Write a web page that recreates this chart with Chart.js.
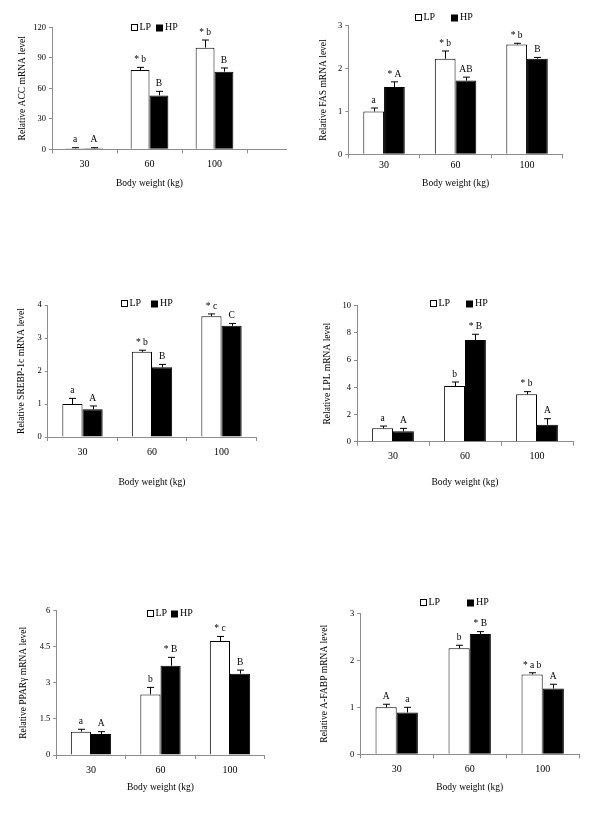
<!DOCTYPE html>
<html>
<head>
<meta charset="utf-8">
<script src="https://cdn.jsdelivr.net/npm/chart.js"></script>
<style>
body { margin: 0; background: #fff; width: 600px; height: 816px; position: relative; overflow: hidden; }
canvas { position: absolute; }
</style>
</head>
<body>
<script>
// body weight groups and the two diets
const weights = ['30', '60', '100'];
const dietNames = ['LP', 'HP'];

// ACC
const accLP = [1, 78, 100];
const accLPerr = [0.6, 2.6, 7.5];
const accHP = [1, 53, 76.4];
const accHPerr = [0.6, 4, 3.6];
const accLPmark = ['a', '* b', '* b'];
const accHPmark = ['A', 'B', 'B'];
const accTicks = [0, 30, 60, 90, 120];

// FAS
const fasLP = [1.0, 2.23, 2.56];
const fasLPerr = [0.08, 0.18, 0.03];
const fasHP = [1.57, 1.72, 2.23];
const fasHPerr = [0.12, 0.08, 0.03];
const fasLPmark = ['a', '* b', '* b'];
const fasHPmark = ['* A', 'AB', 'B'];
const fasTicks = [0, 1, 2, 3];

// SREBP-1c
const srebpLP = [1.0, 2.58, 3.66];
const srebpLPerr = [0.17, 0.05, 0.07];
const srebpHP = [0.84, 2.11, 3.37];
const srebpHPerr = [0.1, 0.09, 0.07];
const srebpLPmark = ['a', '* b', '* c'];
const srebpHPmark = ['A', 'B', 'C'];
const srebpTicks = [0, 1, 2, 3, 4];

// LPL
const lplLP = [0.98, 4.09, 3.48];
const lplLPerr = [0.17, 0.3, 0.2];
const lplHP = [0.76, 7.48, 1.25];
const lplHPerr = [0.22, 0.42, 0.44];
const lplLPmark = ['a', 'b', '* b'];
const lplHPmark = ['A', '* B', 'A'];
const lplTicks = [0, 2, 4, 6, 8, 10];

// PPARγ
const pparLP = [0.97, 2.52, 4.74];
const pparLPerr = [0.1, 0.29, 0.19];
const pparHP = [0.87, 3.71, 3.38];
const pparHPerr = [0.1, 0.35, 0.15];
const pparLPmark = ['a', 'b', '* c'];
const pparHPmark = ['A', '* B', 'B'];
const pparTicks = [0, 1.5, 3, 4.5, 6];

// A-FABP
const fabpLP = [1.0, 2.255, 1.7];
const fabpLPerr = [0.065, 0.065, 0.035];
const fabpHP = [0.89, 2.56, 1.4];
const fabpHPerr = [0.11, 0.05, 0.09];
const fabpLPmark = ['A', 'b', '* a b'];
const fabpHPmark = ['a', '* B', 'A'];
const fabpTicks = [0, 1, 2, 3];

const SERIF = "'Liberation Serif', 'Times New Roman', serif";
const AXIS = '#8c8c8c';

// page geometry of each plot (chart area in page pixels)
const panels = [
  { title: 'Relative ACC mRNA level', lp: accLP, lpErr: accLPerr, hp: accHP, hpErr: accHPerr,
    lpMark: accLPmark, hpMark: accHPmark, ticks: accTicks,
    x0: 52, x1: 247, top: 27.3, bottom: 149.3, extend: 40,
    yTitleX: 22, xTitleY: 183, labelY: 164, legend: [131, 156, 27] },
  { title: 'Relative FAS mRNA level', lp: fasLP, lpErr: fasLPerr, hp: fasHP, hpErr: fasHPerr,
    lpMark: fasLPmark, hpMark: fasHPmark, ticks: fasTicks,
    x0: 348.3, x1: 562.8, top: 25.7, bottom: 154.3, extend: 0,
    yTitleX: 323, xTitleY: 183, labelY: 165, legend: [415, 451, 17] },
  { title: 'Relative SREBP-1c mRNA level', lp: srebpLP, lpErr: srebpLPerr, hp: srebpHP, hpErr: srebpHPerr,
    lpMark: srebpLPmark, hpMark: srebpHPmark, ticks: srebpTicks,
    x0: 47.75, x1: 256.25, top: 305, bottom: 437, extend: 0,
    yTitleX: 21, xTitleY: 482, labelY: 452, legend: [121, 151, 303] },
  { title: 'Relative LPL mRNA level', lp: lplLP, lpErr: lplLPerr, hp: lplHP, hpErr: lplHPerr,
    lpMark: lplLPmark, hpMark: lplHPmark, ticks: lplTicks,
    x0: 357, x1: 573, top: 305.7, bottom: 441.7, extend: 0,
    yTitleX: 327, xTitleY: 482, labelY: 456, legend: [430, 466, 303] },
  { title: 'Relative PPARγ mRNA level', lp: pparLP, lpErr: pparLPerr, hp: pparHP, hpErr: pparHPerr,
    lpMark: pparLPmark, hpMark: pparHPmark, ticks: pparTicks,
    x0: 56.25, x1: 264.75, top: 610.7, bottom: 755, extend: 0,
    yTitleX: 23, xTitleY: 787, labelY: 770, legend: [147, 171, 613] },
  { title: 'Relative A-FABP mRNA level', lp: fabpLP, lpErr: fabpLPerr, hp: fabpHP, hpErr: fabpHPerr,
    lpMark: fabpLPmark, hpMark: fabpHPmark, ticks: fabpTicks,
    x0: 360.2, x1: 579.2, top: 613.3, bottom: 754.3, extend: 0,
    yTitleX: 324, xTitleY: 787, labelY: 769, legend: [420, 467, 602] }
];

// error bars, letters, legend and the longer x axis of the first plot
const extras = {
  id: 'extras',
  afterDatasetsDraw(chart) {
    const ctx = chart.ctx;
    const y = chart.scales.y;
    ctx.save();
    ctx.strokeStyle = '#000';
    ctx.lineWidth = 1;
    ctx.fillStyle = '#000';
    ctx.font = '9.5px ' + SERIF;
    ctx.textAlign = 'center';
    ctx.textBaseline = 'bottom';
    chart.data.datasets.forEach((ds, di) => {
      chart.getDatasetMeta(di).data.forEach((bar, i) => {
        const v = ds.data[i].y;
        const errTop = y.getPixelForValue(v + ds.err[i]);
        const x = Math.round(bar.x) + 0.5;
        ctx.beginPath();
        ctx.moveTo(x, bar.y);
        ctx.lineTo(x, errTop);
        ctx.moveTo(x - 3.5, errTop);
        ctx.lineTo(x + 3.5, errTop);
        ctx.stroke();
        ctx.fillText(ds.marks[i], bar.x, errTop - 3);
      });
    });
    ctx.restore();
  },
  afterDraw(chart, args, opts) {
    const ctx = chart.ctx;
    const area = chart.chartArea;
    ctx.save();
    if (opts.extend) {
      ctx.strokeStyle = AXIS;
      ctx.lineWidth = 1;
      ctx.beginPath();
      ctx.moveTo(area.right, Math.round(area.bottom) + 0.5);
      ctx.lineTo(area.right + opts.extend, Math.round(area.bottom) + 0.5);
      ctx.stroke();
    }
    const [lpX, hpX, ly] = opts.legend;
    const yy = Math.round(ly - opts.top) + 0.5;
    ctx.font = '10px ' + SERIF;
    ctx.textBaseline = 'middle';
    ctx.textAlign = 'left';
    ctx.strokeStyle = '#000';
    ctx.fillStyle = '#000';
    const bx1 = Math.round(lpX - opts.left) + 0.5;
    ctx.strokeRect(bx1, yy - 3, 6, 6);
    ctx.fillText(dietNames[0], bx1 + 8, yy);
    const bx2 = Math.round(hpX - opts.left);
    ctx.fillRect(bx2, yy - 3, 7, 7);
    ctx.fillText(dietNames[1], bx2 + 9, yy);
    ctx.restore();
  }
};

function makeChart(p) {
  const left = Math.floor(p.x0 - 46);
  const top = Math.floor(p.top - 26);
  const width = Math.ceil(p.x1 + 16 + p.extend) - left;
  const height = Math.min(816, Math.ceil(p.bottom + 60)) - top;
  const yAxisW = p.x0 - left;
  const xAxisH = height - (p.bottom - top);

  const canvas = document.createElement('canvas');
  canvas.width = width;
  canvas.height = height;
  canvas.style.left = left + 'px';
  canvas.style.top = top + 'px';
  document.body.appendChild(canvas);

  const titleSize = 9.5;
  const titleLH = titleSize * 1.2;
  const tickSize = 10;

  return new Chart(canvas.getContext('2d'), {
    type: 'bar',
    data: {
      datasets: [
        { label: dietNames[0], data: p.lp.map((v, i) => ({ x: i, y: v })), err: p.lpErr, marks: p.lpMark,
          backgroundColor: '#fff', borderColor: '#000', borderWidth: 1 },
        { label: dietNames[1], data: p.hp.map((v, i) => ({ x: i, y: v })), err: p.hpErr, marks: p.hpMark,
          backgroundColor: '#000', borderColor: '#000', borderWidth: 1 }
      ]
    },
    options: {
      responsive: false,
      animation: false,
      categoryPercentage: 0.58,
      barPercentage: 1.0,
      layout: { padding: { left: 0, top: p.top - top, right: width - (p.x1 - left), bottom: 0 } },
      plugins: {
        legend: { display: false },
        tooltip: { enabled: false },
        extras: { legend: p.legend, left: left, top: top, extend: p.extend }
      },
      scales: {
        x: {
          type: 'linear',
          offset: false,
          min: -0.5,
          max: 2.5,
          afterBuildTicks: s => { s.ticks = weights.map((w, i) => ({ value: i })); },
          afterFit: s => { s.height = xAxisH; },
          ticks: {
            callback: v => weights[v],
            color: '#000',
            font: { family: SERIF, size: tickSize },
            padding: p.labelY - p.bottom - 4 - tickSize * 0.6,
            maxRotation: 0
          },
          grid: { display: true, drawOnChartArea: false, offset: true, tickLength: 4, color: AXIS },
          border: { color: AXIS },
          title: {
            display: true,
            text: 'Body weight (kg)',
            color: '#000',
            font: { family: SERIF, size: titleSize },
            padding: { top: 0, bottom: (height - (p.xTitleY - top)) - titleLH / 2 }
          }
        },
        y: {
          min: p.ticks[0],
          max: p.ticks[p.ticks.length - 1],
          afterBuildTicks: s => { s.ticks = p.ticks.map(v => ({ value: v })); },
          afterFit: s => { s.width = yAxisW; },
          ticks: {
            callback: v => String(v),
            color: '#000',
            font: { family: SERIF, size: 8.5 },
            padding: 3
          },
          grid: { display: true, drawOnChartArea: false, tickLength: 3, color: AXIS },
          border: { color: AXIS },
          title: {
            display: true,
            text: p.title,
            color: '#000',
            font: { family: SERIF, size: titleSize },
            padding: { top: (p.yTitleX - left) - titleLH / 2, bottom: 0 }
          }
        }
      }
    },
    plugins: [extras]
  });
}

panels.forEach(makeChart);
</script>
</body>
</html>
